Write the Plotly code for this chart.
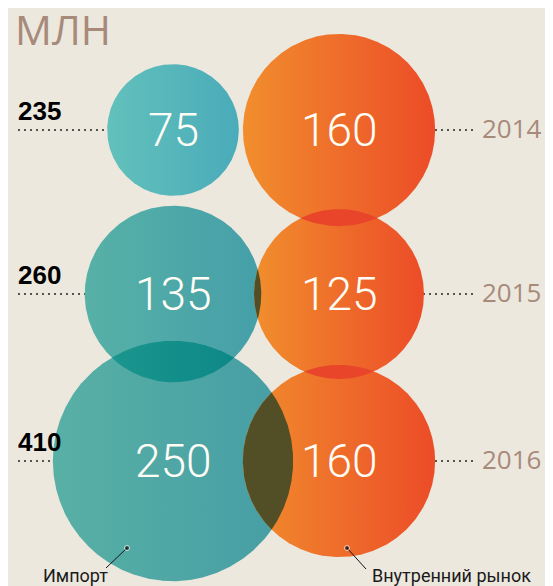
import numpy as np
import plotly.graph_objects as go

# ---- data ----
years = ["2014", "2015", "2016"]
import_vals = [75, 135, 250]
domestic_vals = [160, 125, 160]
totals = [235, 260, 410]
unit_label = "МЛН"
series_labels = ["Импорт", "Внутренний рынок"]

# ---- layout / style ----
W, H = 553, 586
PAGE_MARGIN = 8              # browser body margin; coordinates below are page pixels
K = 7.6                      # radius per sqrt(value), px
ROW_Y = [130, 294, 461]
TEAL_X = 173
ORANGE_X = 339
BG = "#ece8de"
BROWN = "#a88a7b"
TEAL_GRAD = [("#62c1bb", "#4aabba"), ("#57b1a7", "#459fa8"), ("#58b0a5", "#469da5")]
ORANGE_GRAD = ("#f18e2d", "#ec4c28")
OLIVE = "#524e25"
TEAL_OVER = ("#1a968d", "#0d8888")
RED_OVER = "#e8452b"

theta = np.linspace(0, 2 * np.pi, 1441)


def circle_pts(cx, cy, r):
    return cx + r * np.cos(theta), cy + r * np.sin(theta)


def lens_pts(c1, r1, c2, r2):
    ax, ay = circle_pts(c1[0], c1[1], r1)
    bx, by = circle_pts(c2[0], c2[1], r2)
    ma = (ax - c2[0]) ** 2 + (ay - c2[1]) ** 2 <= r2 ** 2
    mb = (bx - c1[0]) ** 2 + (by - c1[1]) ** 2 <= r1 ** 2
    xs = np.concatenate([ax[ma], bx[mb]])
    ys = np.concatenate([ay[ma], by[mb]])
    if len(xs) < 3:
        return None
    mx, my = xs.mean(), ys.mean()
    order = np.argsort(np.arctan2(ys - my, xs - mx))
    xs, ys = xs[order], ys[order]
    return np.append(xs, xs[0]), np.append(ys, ys[0])


fig = go.Figure()

# dotted guide lines
for i, y in enumerate(ROW_Y):
    fig.add_trace(go.Scatter(x=[18, TEAL_X], y=[y, y], mode="lines",
                             line=dict(color="#222", width=1.6, dash="2px,4px"),
                             hoverinfo="skip", showlegend=False))
    fig.add_trace(go.Scatter(x=[ORANGE_X, 474], y=[y, y], mode="lines",
                             line=dict(color="#222", width=1.6, dash="2px,4px"),
                             hoverinfo="skip", showlegend=False))

circles_t = []
circles_o = []
for i, y in enumerate(ROW_Y):
    rt = K * np.sqrt(import_vals[i])
    ro = K * np.sqrt(domestic_vals[i])
    circles_t.append(((TEAL_X, y), rt))
    circles_o.append(((ORANGE_X, y), ro))
    for (c, r), grad in (((TEAL_X, y), rt), TEAL_GRAD[i]), (((ORANGE_X, y), ro), ORANGE_GRAD):
        xs, ys = circle_pts(c[0], c[1], r)
        fig.add_trace(go.Scatter(
            x=xs, y=ys, mode="lines", fill="toself", line=dict(width=0),
            fillgradient=dict(type="horizontal", colorscale=[[0, grad[0]], [1, grad[1]]]),
            hoverinfo="skip", showlegend=False))

# overlaps
pairs = []
for i in range(3):
    pairs.append((circles_t[i], circles_o[i], OLIVE))
for i in range(2):
    pairs.append((circles_t[i], circles_t[i + 1], TEAL_OVER))
    pairs.append((circles_o[i], circles_o[i + 1], RED_OVER))
for (c1, r1), (c2, r2), col in pairs:
    res = lens_pts(c1, r1, c2, r2)
    if res is None:
        continue
    xs, ys = res
    if isinstance(col, tuple):
        fg = dict(type="horizontal", colorscale=[[0, col[0]], [1, col[1]]])
        fig.add_trace(go.Scatter(x=xs, y=ys, mode="lines", fill="toself", line=dict(width=0),
                                 fillgradient=fg, hoverinfo="skip", showlegend=False))
    else:
        fig.add_trace(go.Scatter(x=xs, y=ys, mode="lines", fill="toself", line=dict(width=0),
                                 fillcolor=col, hoverinfo="skip", showlegend=False))

# leader lines for series labels
leaders = [((127, 548), (106, 568)), ((347, 548), (366, 569))]
for (p0, p1) in leaders:
    fig.add_trace(go.Scatter(x=[p0[0], p1[0]], y=[p0[1], p1[1]], mode="lines+markers",
                             line=dict(color="#111", width=1),
                             marker=dict(size=[5, 0], color="#111"),
                             hoverinfo="skip", showlegend=False))

ann = []
num_font = dict(family="Roboto", size=46, color="#fffdf5", weight=300)
for i, y in enumerate(ROW_Y):
    ann.append(dict(x=TEAL_X, y=y, text=str(import_vals[i]), showarrow=False,
                    font=num_font, xanchor="center", yanchor="middle"))
    ann.append(dict(x=ORANGE_X, y=y, text=str(domestic_vals[i]), showarrow=False,
                    font=num_font, xanchor="center", yanchor="middle"))
    ann.append(dict(x=16, y=y - 19, text=str(totals[i]), showarrow=False,
                    font=dict(family="Liberation Sans", size=26, color="#000", weight="bold"),
                    xanchor="left", yanchor="middle"))
    ann.append(dict(x=480, y=y - 2, text=years[i], showarrow=False,
                    font=dict(family="Open Sans", size=26, color=BROWN),
                    xanchor="left", yanchor="middle"))

ann.append(dict(x=13, y=29, text=unit_label, showarrow=False,
                font=dict(family="Open Sans", size=41, color=BROWN),
                xanchor="left", yanchor="middle"))
ann.append(dict(x=41, y=575, text=series_labels[0], showarrow=False,
                font=dict(family="Roboto", size=18, color="#1a1a1a"),
                xanchor="left", yanchor="middle"))
ann.append(dict(x=370, y=575, text=series_labels[1], showarrow=False,
                font=dict(family="Roboto", size=18, color="#1a1a1a"),
                xanchor="left", yanchor="middle"))
for a in ann:
    a.update(xref="x", yref="y")

fig.update_layout(
    width=W - PAGE_MARGIN, height=H - PAGE_MARGIN, margin=dict(l=0, r=0, t=0, b=0),
    paper_bgcolor=BG, plot_bgcolor=BG,
    xaxis=dict(range=[PAGE_MARGIN, W], visible=False, fixedrange=True),
    yaxis=dict(range=[H, PAGE_MARGIN], visible=False, fixedrange=True),
    annotations=ann, showlegend=False,
)

fig.write_html("out.html")
